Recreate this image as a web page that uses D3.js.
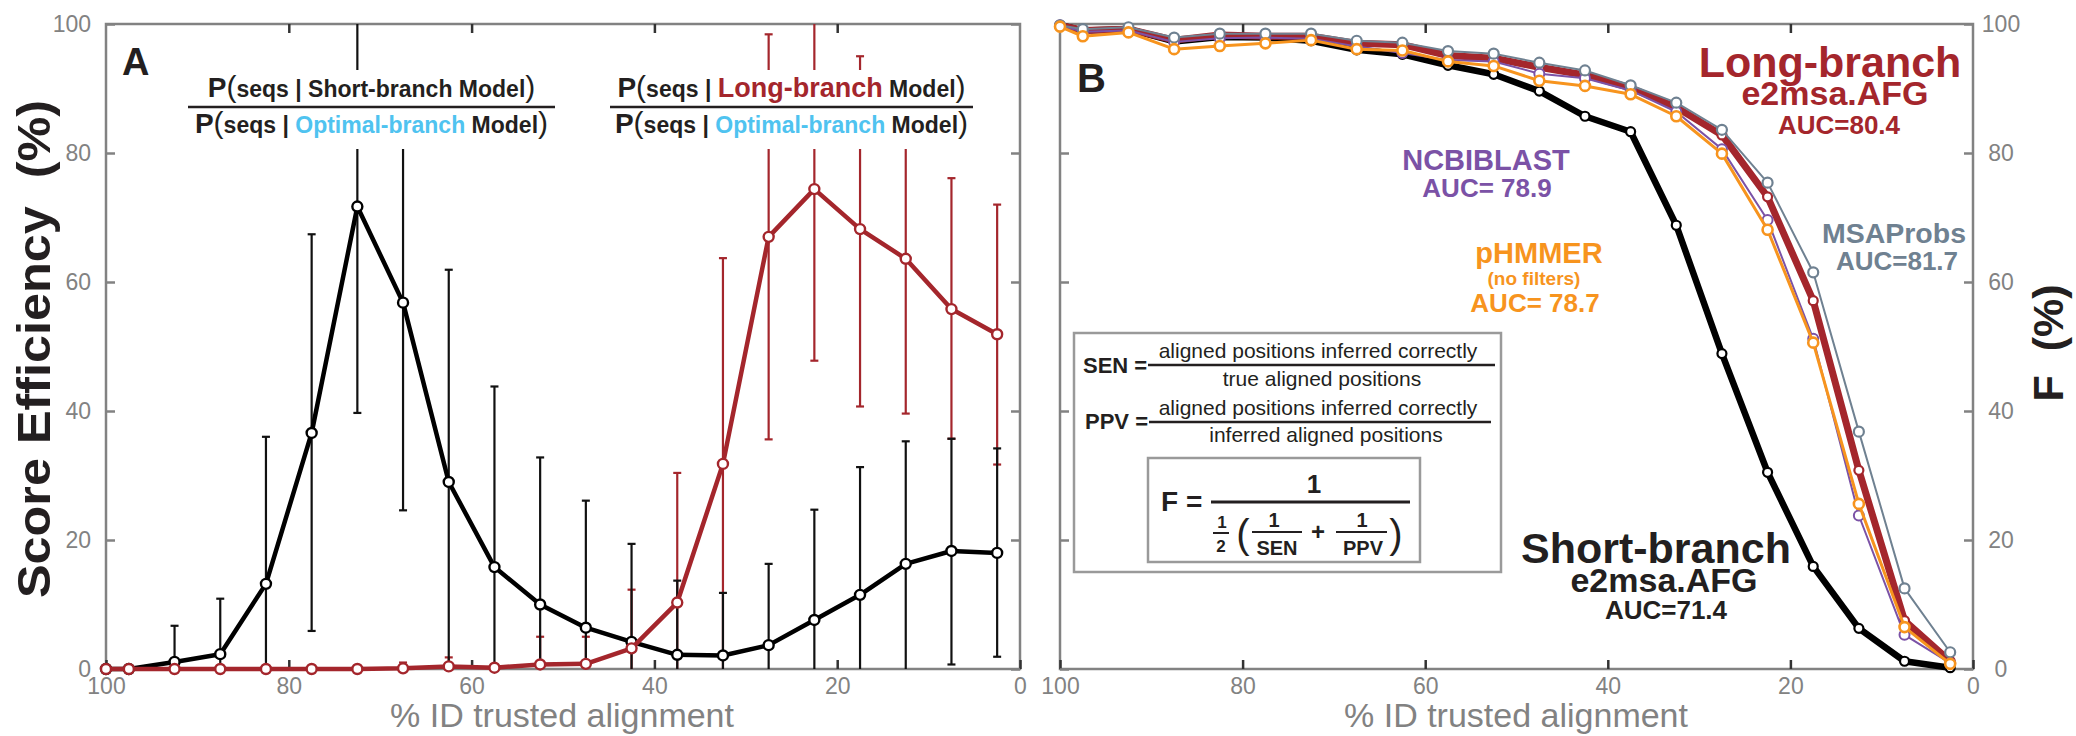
<!DOCTYPE html>
<html>
<head>
<meta charset="utf-8">
<script src="https://cdn.jsdelivr.net/npm/d3@7"></script>
<style>
  body { margin: 0; background: #fff; }
  svg { display: block; }
  text { font-family: "Liberation Sans", Arial, sans-serif; }
</style>
</head>
<body>
<svg id="chart" width="2076" height="736"></svg>
<script>
// % ID of the trusted alignment (x for both panels)
const pctId = [100, 97.5, 92.5, 87.5, 82.5, 77.5, 72.5, 67.5, 62.5, 57.5, 52.5,
               47.5, 42.5, 37.5, 32.5, 27.5, 22.5, 17.5, 12.5, 7.5, 2.5];
const tickVals = [100, 80, 60, 40, 20, 0];

// panel A: score efficiency (%) with error bars
const shortEff = [0, 0, 1.1, 2.3, 13.2, 36.6, 71.7, 56.8, 29.0, 15.8, 10.0,
                  6.4, 4.2, 2.2, 2.1, 3.7, 7.6, 11.5, 16.3, 18.3, 18.0];
const shortHi  = [null, null, 6.7, 10.9, 36.0, 67.4, 100, 88, 61.9, 43.8, 32.8,
                  26.1, 19.4, 13.7, 11.8, 16.3, 24.7, 31.3, 35.3, 35.7, 34.2];
const shortLo  = [null, null, 0, 0, 0, 5.9, 39.7, 24.6, 0, 0, 0,
                  0, 0, 0, 0, 0, 0, 0, 0, 0.7, 1.9];
const longEff  = [0, 0, 0, 0, 0, 0, 0, 0.1, 0.4, 0.2, 0.7,
                  0.8, 3.2, 10.3, 31.8, 67.0, 74.4, 68.2, 63.6, 55.8, 51.9];
const longHi   = [null, null, null, null, null, null, null, 1.0, 1.8, null, 5.0,
                  5.0, 12.3, 30.4, 63.7, 98.4, 100, 95.0, 88, 76.1, 72.0];
const longLo   = [null, null, null, null, null, null, null, 0, 0, null, 0,
                  0, 0, 0, 0, 35.6, 47.8, 40.7, 39.6, 35.7, 31.7];

// panel B: F (%)
const fShort = [99.8, 99.0, 99.2, 97.3, 98.0, 97.9, 97.4, 96.0, 95.3, 93.6, 92.2,
                89.6, 85.7, 83.3, 68.8, 48.9, 30.5, 15.9, 6.3, 1.2, 0.2];
const fLong  = [99.8, 99.0, 99.2, 97.5, 98.3, 98.1, 98.1, 97.0, 96.8, 95.1, 94.7,
                93.3, 92.1, 90.1, 87.1, 82.8, 73.2, 57.1, 30.8, 7.5, 1.2];
const fBlast = [99.8, 98.8, 99.0, 97.2, 97.8, 97.9, 97.7, 96.5, 95.5, 94.4, 94.2,
                92.3, 91.6, 89.7, 86.4, 80.6, 69.6, 51.2, 23.8, 5.3, 0.9];
const fHmmer = [99.6, 98.1, 98.7, 96.1, 96.6, 97.0, 97.5, 96.1, 95.9, 94.2, 93.5,
                91.2, 90.4, 89.1, 85.7, 79.9, 68.1, 50.6, 25.6, 6.5, 0.8];
const fProbs = [99.8, 99.2, 99.5, 97.9, 98.5, 98.5, 98.5, 97.4, 97.1, 95.8, 95.4,
                94.0, 92.8, 90.5, 87.8, 83.6, 75.4, 61.5, 36.8, 12.5, 2.6];

const INK = "#231f20", GRAY = "#828282", RED = "#a4262c", BLUE = "#4fc3f0",
      PURPLE = "#7b52a6", ORANGE = "#f7941e", SLATE = "#6f8191";

const svg = d3.select("#chart");
svg.append("rect").attr("width", 2076).attr("height", 736).attr("fill", "#fff");

const yTop = 24, yBot = 669;
const xA = d3.scaleLinear().domain([100, 0]).range([106, 1020]);
const xB = d3.scaleLinear().domain([100, 0]).range([1060, 1973]);
const y = d3.scaleLinear().domain([0, 100]).range([yBot, yTop]);

function styleAxis(g, tickColor) {
  g.attr("font-family", null).attr("font-size", null);
  g.select(".domain").remove();
  g.selectAll(".tick line").attr("stroke", tickColor).attr("stroke-width", 2.5);
  g.selectAll(".tick text").attr("fill", GRAY).style("font-size", "23px");
}

function frame(x, rightLabels) {
  const [x0, x1] = x.range();
  const g = svg.append("g");
  g.append("rect").attr("x", x0).attr("y", yTop).attr("width", x1 - x0).attr("height", yBot - yTop)
    .attr("fill", "none").attr("stroke", GRAY).attr("stroke-width", 2.5);
  g.append("g").attr("transform", `translate(0,${yBot})`)
    .call(d3.axisBottom(x).tickValues(tickVals).tickSizeInner(-9).tickSizeOuter(0).tickPadding(9))
    .call(a => styleAxis(a, "#333"));
  g.append("g").attr("transform", `translate(0,${yTop})`)
    .call(d3.axisTop(x).tickValues(tickVals.slice(1, 5)).tickSizeInner(-9).tickSizeOuter(0).tickFormat(() => ""))
    .call(a => styleAxis(a, "#333"));
  g.append("g").attr("transform", `translate(${x0},0)`)
    .call(d3.axisLeft(y).tickValues(tickVals).tickSizeInner(-9).tickSizeOuter(0).tickPadding(15)
      .tickFormat(rightLabels ? () => "" : d3.format("d")))
    .call(a => styleAxis(a, GRAY));
  const r = g.append("g").attr("transform", `translate(${x1},0)`)
    .call(d3.axisRight(y).tickValues(tickVals).tickSizeInner(-9).tickSizeOuter(0).tickPadding(28)
      .tickFormat(rightLabels ? d3.format("d") : () => ""))
    .call(a => styleAxis(a, GRAY));
  r.selectAll(".tick text").attr("text-anchor", "middle");
  return g;
}

frame(xA, false);
frame(xB, true);

// ---------- panel A ----------
const gA = svg.append("g");

function errBars(x, hi, lo, color) {
  const rows = pctId.map((p, i) => ({ p, hi: hi[i], lo: lo[i] })).filter(d => d.hi != null);
  const g = gA.append("g").attr("stroke", color).attr("stroke-width", 2.2);
  g.selectAll("line.v").data(rows).join("line")
    .attr("x1", d => x(d.p)).attr("x2", d => x(d.p))
    .attr("y1", d => y(Math.min(d.hi, 100))).attr("y2", d => y(Math.max(d.lo, 0)));
  g.selectAll("line.hc").data(rows.filter(d => d.hi < 99.5)).join("line")
    .attr("x1", d => x(d.p) - 4).attr("x2", d => x(d.p) + 4)
    .attr("y1", d => y(d.hi)).attr("y2", d => y(d.hi));
  g.selectAll("line.lc").data(rows.filter(d => d.lo > 0.3)).join("line")
    .attr("x1", d => x(d.p) - 4).attr("x2", d => x(d.p) + 4)
    .attr("y1", d => y(d.lo)).attr("y2", d => y(d.lo));
}

function series(g, x, vals, color, width, r, sw) {
  const line = d3.line().x((d, i) => x(pctId[i])).y(d => y(d));
  g.append("path").datum(vals).attr("d", line).attr("fill", "none")
    .attr("stroke", color).attr("stroke-width", width).attr("stroke-linejoin", "round");
  g.append("g").selectAll("circle").data(vals).join("circle")
    .attr("cx", (d, i) => x(pctId[i])).attr("cy", d => y(d)).attr("r", r)
    .attr("fill", "#fff").attr("stroke", color).attr("stroke-width", sw);
}

errBars(xA, longHi, longLo, RED);
errBars(xA, shortHi, shortLo, "#111");
series(gA, xA, shortEff, "#000", 4.5, 5, 2.4);
series(gA, xA, longEff, RED, 4.5, 5, 2.4);

// title fractions (white boxes hide the error bars behind them)
function fraction(x0, x1, num, den) {
  const g = svg.append("g");
  g.append("rect").attr("x", x0 - 3).attr("y", 70).attr("width", x1 - x0 + 6).attr("height", 79).attr("fill", "#fff");
  g.append("line").attr("x1", x0).attr("x2", x1).attr("y1", 107).attr("y2", 107)
    .attr("stroke", INK).attr("stroke-width", 2.5);
  [[num, 97], [den, 133]].forEach(([parts, by]) => {
    const t = g.append("text").attr("x", (x0 + x1) / 2).attr("y", by).attr("text-anchor", "middle")
      .attr("fill", INK).style("white-space", "pre");
    parts.forEach(([s, size, color, weight]) => {
      t.append("tspan").text(s).style("font-size", size + "px").attr("fill", color).attr("font-weight", weight);
    });
  });
}
const seqs = [["P", 28, INK, 700], ["(", 30, INK, 400], ["seqs | ", 23, INK, 700]];
const tail = [[" Model", 23, INK, 700], [")", 30, INK, 400]];
const optimal = seqs.concat([["Optimal-branch", 23, BLUE, 700]], tail);
fraction(188, 555, seqs.concat([["Short-branch", 23, INK, 700]], tail), optimal);
fraction(610, 973, seqs.concat([["Long-branch", 27, RED, 700]], tail), optimal);

svg.append("text").attr("x", 122).attr("y", 75).text("A")
  .style("font-size", "38px").attr("font-weight", 700).attr("fill", INK);
svg.append("text").attr("transform", "translate(50,349) rotate(-90)").attr("text-anchor", "middle")
  .style("white-space", "pre").style("font-size", "46px").attr("font-weight", 700).attr("fill", INK)
  .attr("textLength", 498).attr("lengthAdjust", "spacingAndGlyphs").text("Score Efficiency  (%)");
svg.append("text").attr("x", 562).attr("y", 727).attr("text-anchor", "middle")
  .style("font-size", "34px").attr("fill", GRAY).text("% ID trusted alignment");

// ---------- panel B ----------
const gB = svg.append("g");
series(gB, xB, fShort, "#000", 6.5, 4.5, 2.2);
series(gB, xB, fLong, RED, 7, 4.5, 2.2);
series(gB, xB, fBlast, PURPLE, 2, 5, 2);
series(gB, xB, fProbs, SLATE, 2, 5, 2.2);
series(gB, xB, fHmmer, ORANGE, 3, 5, 2.6);

svg.append("text").attr("x", 1077).attr("y", 92).text("B")
  .style("font-size", "40px").attr("font-weight", 700).attr("fill", INK);
svg.append("text").attr("x", 1516).attr("y", 727).attr("text-anchor", "middle")
  .style("font-size", "34px").attr("fill", GRAY).text("% ID trusted alignment");
svg.append("text").attr("transform", "translate(2063,343) rotate(-90)").attr("text-anchor", "middle")
  .style("white-space", "pre").style("font-size", "43px").attr("font-weight", 700).attr("fill", INK)
  .text("F  (%)");

const labels = [
  ["Long-branch", 1830, 77, 43, RED],
  ["e2msa.AFG", 1835, 105, 34, RED],
  ["AUC=80.4", 1839, 134, 26, RED],
  ["MSAProbs", 1894, 243, 28.5, SLATE],
  ["AUC=81.7", 1897, 270, 26, SLATE],
  ["NCBIBLAST", 1486, 170, 29, PURPLE],
  ["AUC= 78.9", 1487, 197, 26, PURPLE],
  ["pHMMER", 1539, 263, 29, ORANGE],
  ["(no filters)", 1534, 285, 19, ORANGE],
  ["AUC= 78.7", 1535, 312, 26, ORANGE],
  ["Short-branch", 1656, 563, 43, INK],
  ["e2msa.AFG", 1664, 592, 34, INK],
  ["AUC=71.4", 1666, 619, 26, INK]
];
svg.append("g").selectAll("text").data(labels).join("text")
  .attr("x", d => d[1]).attr("y", d => d[2]).attr("text-anchor", "middle")
  .style("font-size", d => d[3] + "px").attr("font-weight", 700).attr("fill", d => d[4])
  .text(d => d[0]);

// formula box
const fb = svg.append("g").attr("fill", INK);
fb.append("rect").attr("x", 1074).attr("y", 333).attr("width", 427).attr("height", 239)
  .attr("fill", "#fff").attr("stroke", "#9a9a9a").attr("stroke-width", 2.5);
fb.append("rect").attr("x", 1148).attr("y", 458).attr("width", 272).attr("height", 104)
  .attr("fill", "#fff").attr("stroke", "#9a9a9a").attr("stroke-width", 2.5);
function txt(s, x, yy, size, weight, anchor) {
  fb.append("text").attr("x", x).attr("y", yy).attr("text-anchor", anchor || "middle")
    .style("font-size", size + "px").attr("font-weight", weight).text(s);
}
function rule(x1, x2, yy, w) {
  fb.append("line").attr("x1", x1).attr("x2", x2).attr("y1", yy).attr("y2", yy)
    .attr("stroke", INK).attr("stroke-width", w);
}
txt("SEN =", 1083, 373, 22, 700, "start");
rule(1148, 1495, 365, 2.5);
txt("aligned positions inferred correctly", 1318, 358, 21, 400);
txt("true aligned positions", 1322, 386, 21, 400);
txt("PPV =", 1085, 429, 22, 700, "start");
rule(1149, 1491, 422, 2.5);
txt("aligned positions inferred correctly", 1318, 415, 21, 400);
txt("inferred aligned positions", 1326, 442, 21, 400);
txt("F =", 1161, 511, 28, 700, "start");
rule(1211, 1410, 502, 3);
txt("1", 1314, 493, 26, 700);
txt("1", 1222, 528, 17, 700);
rule(1213, 1229, 533, 2);
txt("2", 1221, 552, 17, 700);
txt("(", 1243, 548, 40, 400);
txt("1", 1274, 527, 20, 700);
rule(1252, 1302, 532, 2);
txt("SEN", 1277, 555, 20, 700);
txt("+", 1318, 540, 24, 700);
txt("1", 1362, 527, 20, 700);
rule(1336, 1387, 532, 2);
txt("PPV", 1363, 555, 20, 700);
txt(")", 1396, 548, 40, 400);
</script>
</body>
</html>
